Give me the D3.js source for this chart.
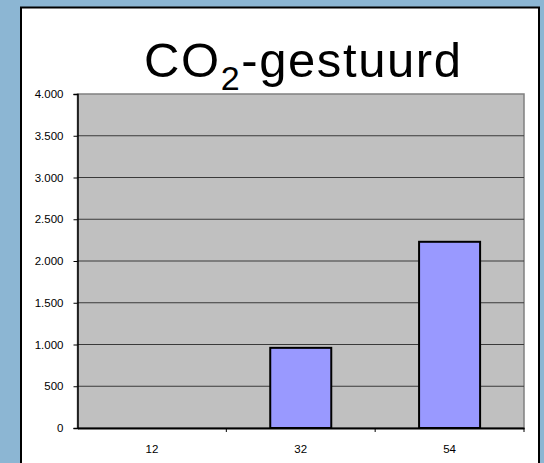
<!DOCTYPE html>
<html>
<head>
<meta charset="utf-8">
<script src="https://cdn.jsdelivr.net/npm/d3@7"></script>
<style>
  body { margin: 0; background: #8cb6d3; }
  svg { display: block; }
  text { font-family: Arial, "Liberation Sans", sans-serif; }
</style>
</head>
<body>
<script>
// data
var categories = ["12", "32", "54"];
var values = [0, 960, 2230];
var yTicks = [0, 500, 1000, 1500, 2000, 2500, 3000, 3500, 4000];

var W = 544, H = 463;
var plot = {left: 77.5, right: 524, top: 94, bottom: 428};

var svg = d3.select("body").append("svg")
    .attr("width", W)
    .attr("height", H);

// white slide panel
svg.append("rect")
    .attr("x", 21).attr("y", 7.5)
    .attr("width", 518).attr("height", H)
    .attr("fill", "#fff")
    .attr("stroke", "#000")
    .attr("stroke-width", 2);

// title
var title = svg.append("text")
    .attr("x", 144).attr("y", 77)
    .attr("font-size", 49)
    .attr("letter-spacing", 1.6)
    .attr("fill", "#000");
title.append("tspan").text("CO");
title.append("tspan").attr("font-size", 34).attr("dy", 13).text("2");
title.append("tspan").attr("dy", -13).text("-gestuurd");

// scales
var x = d3.scaleBand()
    .domain(categories)
    .range([plot.left, plot.right])
    .padding(0);

var y = d3.scaleLinear()
    .domain([0, 4000])
    .range([plot.bottom, plot.top]);

var fmt = d3.formatLocale({decimal: ",", thousands: ".", grouping: [3], currency: ["", ""]}).format(",");

// plot background
svg.append("rect")
    .attr("x", plot.left).attr("y", plot.top)
    .attr("width", plot.right - plot.left)
    .attr("height", plot.bottom - plot.top)
    .attr("fill", "#c0c0c0")
    .attr("stroke", "#808080")
    .attr("stroke-width", 1.5);

// gridlines
svg.append("g").selectAll("line")
    .data(yTicks.filter(function(d) { return d > 0 && d < 4000; }))
    .enter().append("line")
    .attr("x1", plot.left).attr("x2", plot.right)
    .attr("y1", function(d) { return y(d); })
    .attr("y2", function(d) { return y(d); })
    .attr("stroke", "#3a3a3a")
    .attr("stroke-width", 1);

// bars
var bw = x.bandwidth() * 0.41;
svg.append("g").selectAll("rect")
    .data(values)
    .enter().append("rect")
    .filter(function(d) { return d > 0; })
    .attr("x", function(d) { return x(categories[values.indexOf(d)]) + x.bandwidth() / 2 - bw / 2; })
    .attr("y", function(d) { return y(d); })
    .attr("width", bw)
    .attr("height", function(d) { return y(0) - y(d); })
    .attr("fill", "#9999ff")
    .attr("stroke", "#000")
    .attr("stroke-width", 2);

// y axis
var yAxis = svg.append("g")
    .attr("transform", "translate(" + plot.left + ",0)")
    .call(d3.axisLeft(y).tickValues(yTicks).tickFormat(fmt).tickSize(4).tickPadding(10));
yAxis.select(".domain").attr("stroke", "#000").attr("stroke-width", 1.5);
yAxis.selectAll(".tick line").attr("stroke", "#000");
yAxis.selectAll("text").attr("font-size", 11.5).attr("font-family", "Arial, 'Liberation Sans', sans-serif").attr("fill", "#000");

// x axis
var xAxis = svg.append("g")
    .attr("transform", "translate(0," + plot.bottom + ")")
    .call(d3.axisBottom(x).tickSize(0).tickPadding(17));
xAxis.select(".domain").attr("stroke", "#000").attr("stroke-width", 2);
xAxis.selectAll("text").attr("font-size", 11.5).attr("font-family", "Arial, 'Liberation Sans', sans-serif").attr("fill", "#000");

// tick marks between categories
xAxis.selectAll(".sep")
    .data(categories)
    .enter().append("line")
    .attr("class", "sep")
    .attr("x1", function(d) { return x(d) + x.bandwidth(); })
    .attr("x2", function(d) { return x(d) + x.bandwidth(); })
    .attr("y1", 0).attr("y2", 4)
    .attr("stroke", "#000");
</script>
</body>
</html>
